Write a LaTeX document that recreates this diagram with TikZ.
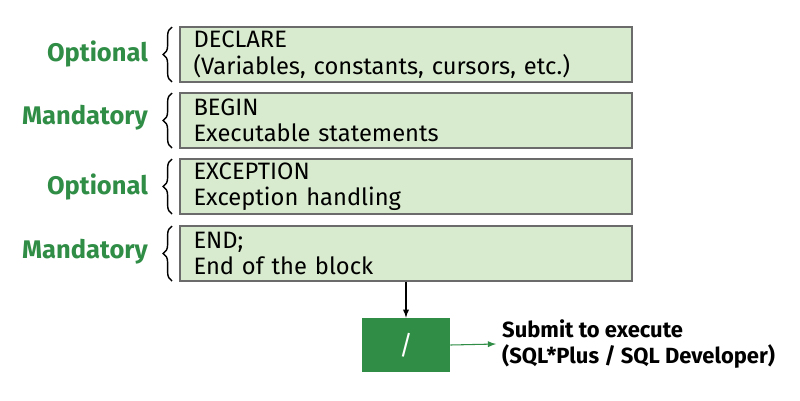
\documentclass[tikz,border=0pt]{standalone}
\usepackage{fontspec}
\setmainfont{Fira Sans}
\usetikzlibrary{positioning}
\usetikzlibrary{decorations.pathreplacing}
\definecolor{boxfill}{HTML}{D9EBCF}
\definecolor{boxline}{HTML}{6B6B6B}
\definecolor{gfg}{HTML}{2F8D46}

\begin{document}
\begin{tikzpicture}
			[x=0.02cm,y=-0.02cm,
			 part/.style={draw=boxline,thick,fill=boxfill,minimum width=9.04cm,minimum height=1.1cm,
			 	align=left,text width=8.5cm,font=\fontsize{13.5}{15}\selectfont,inner sep=0pt},
			 tag/.style={text=gfg,font=\fontsize{14.5}{17}\selectfont\bfseries,anchor=east},
			 curly/.style={draw=black,thick,decorate,decoration={brace,amplitude=5pt}},
			 flow/.style={semithick,-latex}]

			\fill[white] (0,0) rectangle (800,400);

			\node[part] (decl) at (406,54.5) {DECLARE\\(Variables, constants, cursors, etc.)};
			\node[part] (begin) at (406,120.5) {BEGIN\\Executable statements};
			\node[part] (exc) at (406,186.5) {EXCEPTION\\Exception handling};
			\node[part] (end) at (406,253.5) {END;\\End of the block};

			\draw[curly] (172,82) -- (172,27);
			\draw[curly] (172,148) -- (172,93);
			\draw[curly] (172,214) -- (172,159);
			\draw[curly] (172,281) -- (172,226);

			\node[tag] (t1) at (154,54) {Optional};
			\node[tag] (t2) at (154,118) {Mandatory};
			\node[tag] (t3) at (154,187) {Optional};
			\node[tag] (t4) at (154,252) {Mandatory};

			\node[fill=gfg,minimum width=1.76cm,minimum height=1.08cm,text=white,
				font=\fontsize{15}{17}\selectfont] (slash) at (406,345) {/};
			\draw[flow] (end.south) -- (slash.north);

			\node[anchor=west,align=left,font=\fontsize{12.5}{14.5}\selectfont\bfseries] (run) at (496,344)
				{Submit to execute\\(SQL*Plus / SQL Developer)};
			\draw[flow,gfg] (slash.east) -- (run.west);
		\end{tikzpicture}
\end{document}
